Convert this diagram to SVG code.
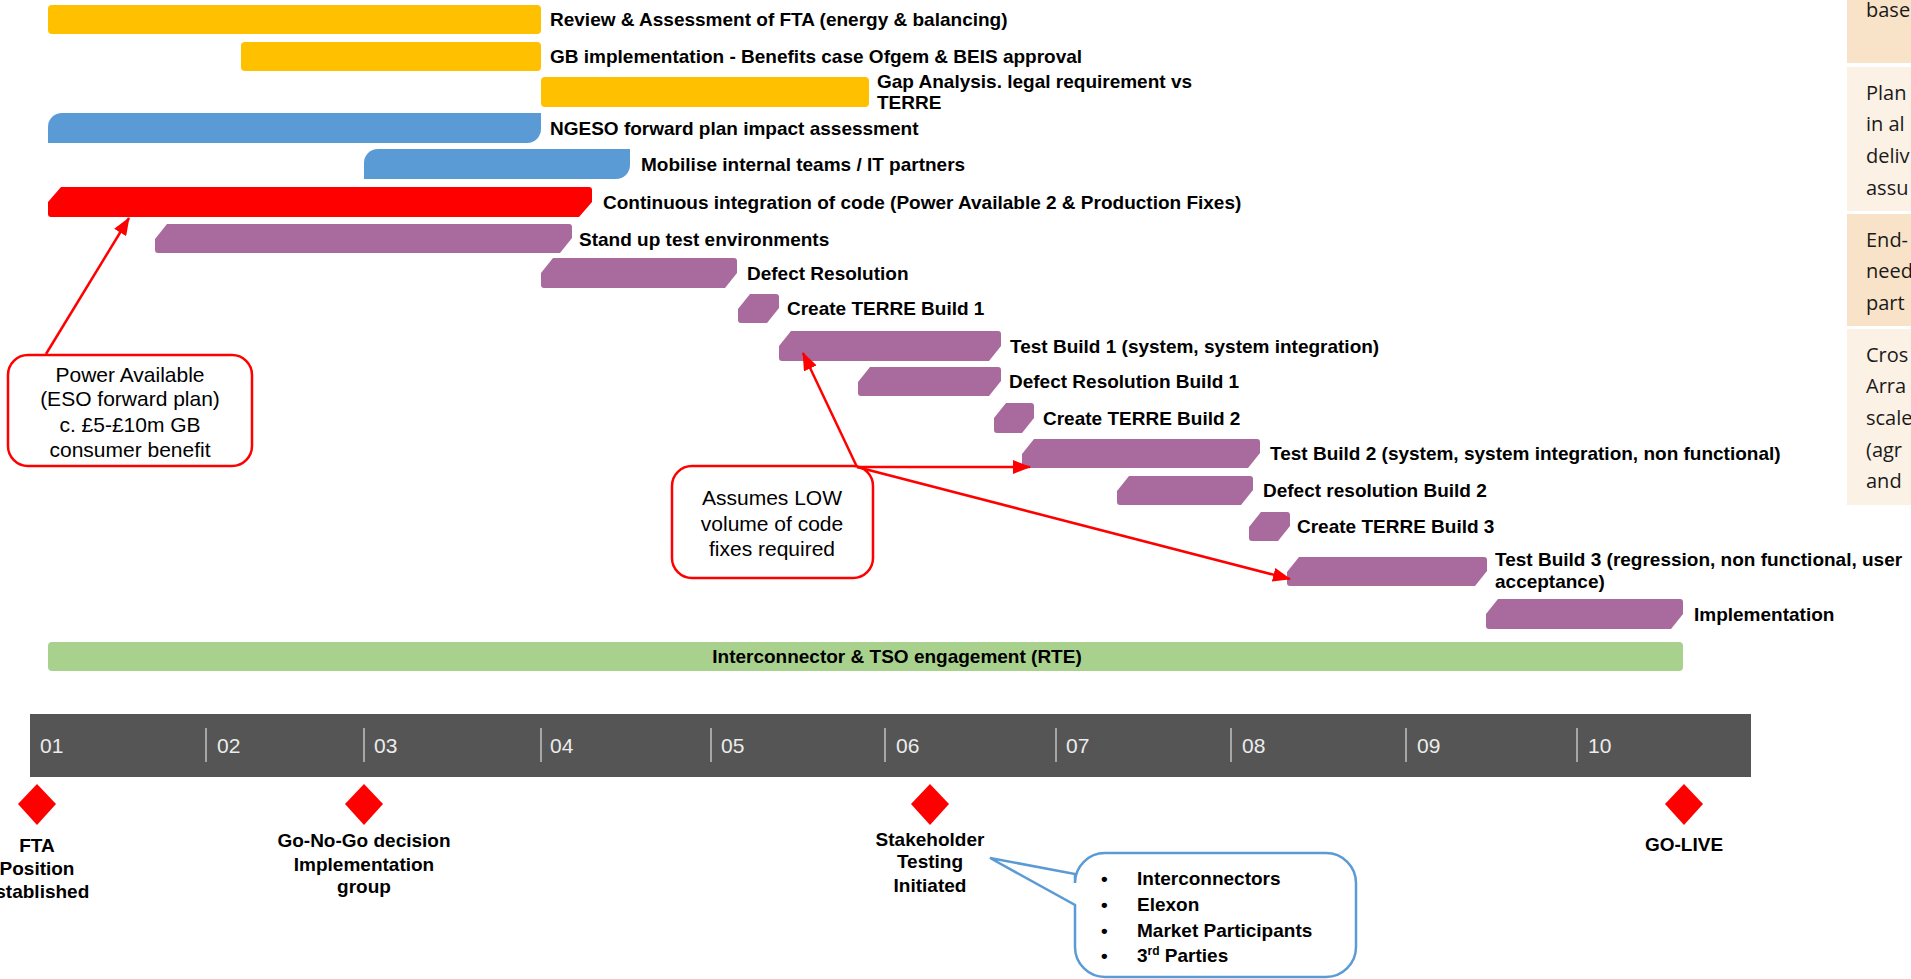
<svg xmlns="http://www.w3.org/2000/svg" width="1911" height="979" viewBox="0 0 1911 979">
<defs>
<style>
.lbl{font-family:"Liberation Sans",Arial,sans-serif;font-weight:bold;font-size:19px;fill:#000}
.tl{font-family:"Liberation Sans",Arial,sans-serif;font-size:21px;fill:#ececec}
.ms{font-family:"Liberation Sans",Arial,sans-serif;font-weight:bold;font-size:19px;fill:#000;text-anchor:middle}
.note{font-family:"Liberation Sans",Arial,sans-serif;font-size:21px;fill:#000;text-anchor:middle}
.side{font-family:"Open Sans","Liberation Sans",sans-serif;font-size:20px;fill:#1a1a1a}
.yel{fill:#FFC000}.blu{fill:#5B9BD5}.red{fill:#FF0000}.pur{fill:#A96B9E}.grn{fill:#A9D18E}
.tick{stroke:#a6a6a6;stroke-width:2}
.dia{fill:#FF0000}
.rbox{fill:#fff;stroke:#FF0000;stroke-width:2.5}
.conn{stroke:#FF0000;stroke-width:2.5;fill:none;marker-end:url(#ah)}
</style>
<marker id="ah" markerUnits="userSpaceOnUse" markerWidth="18" markerHeight="14" refX="17" refY="7" orient="auto"><path d="M0,0 L18,7 L0,14 Z" fill="#FF0000"/></marker>
</defs>
<rect width="1911" height="979" fill="#fff"/>

<g id="side-panel">
<rect x="1847" y="0" width="64" height="63" fill="#F9E3C8"/>
<rect x="1847" y="67" width="64" height="144" fill="#FCF1E5"/>
<rect x="1847" y="214" width="64" height="112" fill="#F9E3C8"/>
<rect x="1847" y="329" width="64" height="176" fill="#FCF1E5"/>
<text class="side" x="1866" y="17">base</text>
<text class="side" x="1866" y="100">Plan</text>
<text class="side" x="1866" y="131">in al</text>
<text class="side" x="1866" y="163">deliv</text>
<text class="side" x="1866" y="195">assu</text>
<text class="side" x="1866" y="247">End-</text>
<text class="side" x="1866" y="278">need</text>
<text class="side" x="1866" y="310">part</text>
<text class="side" x="1866" y="362">Cros</text>
<text class="side" x="1866" y="393">Arra</text>
<text class="side" x="1866" y="425">scale</text>
<text class="side" x="1866" y="457">(agr</text>
<text class="side" x="1866" y="488">and</text>
</g>

<g id="task-review">
<rect class="yel" x="48" y="5" width="493" height="29" rx="4"/>
<text class="lbl" x="550" y="26">Review &amp; Assessment of FTA (energy &amp; balancing)</text>
</g>
<g id="task-gb">
<rect class="yel" x="241" y="42" width="300" height="29" rx="4"/>
<text class="lbl" x="550" y="63">GB implementation - Benefits case Ofgem &amp; BEIS approval</text>
</g>
<g id="task-gap">
<rect class="yel" x="541" y="77" width="328" height="30" rx="4"/>
<text class="lbl" x="877" y="88">Gap Analysis. legal requirement vs</text>
<text class="lbl" x="877" y="109">TERRE</text>
</g>
<g id="task-ngeso">
<path class="blu" d="M62,113 H541 V129 A14,14 0 0 1 527,143 H48 V127 A14,14 0 0 1 62,113 Z"/>
<text class="lbl" x="550" y="135">NGESO forward plan impact assessment</text>
</g>
<g id="task-mobilise">
<path class="blu" d="M378,149 H630 V165 A14,14 0 0 1 616,179 H364 V163 A14,14 0 0 1 378,149 Z"/>
<text class="lbl" x="641" y="171">Mobilise internal teams / IT partners</text>
</g>
<g id="task-ci">
<path class="red" d="M61,187 H589 Q592,187 592,190 V202 L579,217 H51 Q48,217 48,214 V202 Z"/>
<text class="lbl" x="603" y="209">Continuous integration of code (Power Available 2 &amp; Production Fixes)</text>
</g>
<g id="task-standup">
<path class="pur" d="M167,224 H569 Q572,224 572,227 V238 L560,253 H158 Q155,253 155,250 V239 Z"/>
<text class="lbl" x="579" y="246">Stand up test environments</text>
</g>
<g id="task-defect">
<path class="pur" d="M553,258 H734 Q737,258 737,261 V273 L725,288 H544 Q541,288 541,285 V273 Z"/>
<text class="lbl" x="747" y="280">Defect Resolution</text>
</g>
<g id="task-create1">
<path class="pur" d="M750,294 H776 Q779,294 779,297 V308 L767,323 H741 Q738,323 738,320 V309 Z"/>
<text class="lbl" x="787" y="315">Create TERRE Build 1</text>
</g>
<g id="task-test1">
<path class="pur" d="M791,331 H998 Q1001,331 1001,334 V346 L989,361 H782 Q779,361 779,358 V346 Z"/>
<text class="lbl" x="1010" y="353">Test Build 1 (system, system integration)</text>
</g>
<g id="task-defect1">
<path class="pur" d="M870,367 H998 Q1001,367 1001,370 V381 L989,396 H861 Q858,396 858,393 V382 Z"/>
<text class="lbl" x="1009" y="388">Defect Resolution Build 1</text>
</g>
<g id="task-create2">
<path class="pur" d="M1006,403 H1031 Q1034,403 1034,406 V418 L1022,433 H997 Q994,433 994,430 V418 Z"/>
<text class="lbl" x="1043" y="425">Create TERRE Build 2</text>
</g>
<g id="task-test2">
<path class="pur" d="M1034,439 H1257 Q1260,439 1260,442 V453 L1248,468 H1025 Q1022,468 1022,465 V454 Z"/>
<text class="lbl" x="1270" y="460">Test Build 2 (system, system integration, non functional)</text>
</g>
<g id="task-defect2">
<path class="pur" d="M1129,476 H1250 Q1253,476 1253,479 V490 L1241,505 H1120 Q1117,505 1117,502 V491 Z"/>
<text class="lbl" x="1263" y="497">Defect resolution Build 2</text>
</g>
<g id="task-create3">
<path class="pur" d="M1261,512 H1287 Q1290,512 1290,515 V526 L1278,541 H1252 Q1249,541 1249,538 V527 Z"/>
<text class="lbl" x="1297" y="533">Create TERRE Build 3</text>
</g>
<g id="task-test3">
<path class="pur" d="M1299,557 H1484 Q1487,557 1487,560 V571 L1475,586 H1290 Q1287,586 1287,583 V572 Z"/>
<text class="lbl" x="1495" y="566">Test Build 3 (regression, non functional, user</text>
<text class="lbl" x="1495" y="588">acceptance)</text>
</g>
<g id="task-impl">
<path class="pur" d="M1498,599 H1680 Q1683,599 1683,602 V614 L1671,629 H1489 Q1486,629 1486,626 V614 Z"/>
<text class="lbl" x="1694" y="621">Implementation</text>
</g>
<g id="task-interconnector">
<rect class="grn" x="48" y="642" width="1635" height="29" rx="4"/>
<text class="lbl" x="897" y="663" text-anchor="middle">Interconnector &amp; TSO engagement (RTE)</text>
</g>

<g id="timeline">
<rect x="30" y="714" width="1721" height="63" fill="#555555"/>
<line class="tick" x1="206" y1="728" x2="206" y2="762"/>
<line class="tick" x1="364" y1="728" x2="364" y2="762"/>
<line class="tick" x1="541" y1="728" x2="541" y2="762"/>
<line class="tick" x1="711" y1="728" x2="711" y2="762"/>
<line class="tick" x1="885" y1="728" x2="885" y2="762"/>
<line class="tick" x1="1056" y1="728" x2="1056" y2="762"/>
<line class="tick" x1="1231" y1="728" x2="1231" y2="762"/>
<line class="tick" x1="1406" y1="728" x2="1406" y2="762"/>
<line class="tick" x1="1577" y1="728" x2="1577" y2="762"/>
<text class="tl" x="40" y="753">01</text>
<text class="tl" x="217" y="753">02</text>
<text class="tl" x="374" y="753">03</text>
<text class="tl" x="550" y="753">04</text>
<text class="tl" x="721" y="753">05</text>
<text class="tl" x="896" y="753">06</text>
<text class="tl" x="1066" y="753">07</text>
<text class="tl" x="1242" y="753">08</text>
<text class="tl" x="1417" y="753">09</text>
<text class="tl" x="1588" y="753">10</text>
</g>

<g id="ms-fta">
<path class="dia" d="M37,784 L56,804 L37,825 L18,804 Z"/>
<text class="ms" x="37" y="852">FTA</text>
<text class="ms" x="37" y="875">Position</text>
<text class="ms" x="37" y="898">established</text>
</g>
<g id="ms-gonogo">
<path class="dia" d="M364,784 L383,804 L364,825 L345,804 Z"/>
<text class="ms" x="364" y="847">Go-No-Go decision</text>
<text class="ms" x="364" y="871">Implementation</text>
<text class="ms" x="364" y="893">group</text>
</g>
<g id="ms-stakeholder">
<path class="dia" d="M930,784 L949,804 L930,825 L911,804 Z"/>
<text class="ms" x="930" y="846">Stakeholder</text>
<text class="ms" x="930" y="868">Testing</text>
<text class="ms" x="930" y="892">Initiated</text>
</g>
<g id="ms-golive">
<path class="dia" d="M1684,784 L1703,804 L1684,825 L1665,804 Z"/>
<text class="ms" x="1684" y="851">GO-LIVE</text>
</g>

<g id="callout-stakeholders">
<path d="M1105,853 H1326 A30,30 0 0 1 1356,883 V947 A30,30 0 0 1 1326,977 H1105 A30,30 0 0 1 1075,947 V905 L990,858 L1075,874 V883 A30,30 0 0 1 1105,853 Z" fill="#fff" stroke="#5B9BD5" stroke-width="2.5"/>
<g class="lbl">
<text x="1101" y="885">•</text><text x="1137" y="885">Interconnectors</text>
<text x="1101" y="911">•</text><text x="1137" y="911">Elexon</text>
<text x="1101" y="937">•</text><text x="1137" y="937">Market Participants</text>
<text x="1101" y="962">•</text><text x="1137" y="962">3<tspan font-size="12" dy="-7">rd</tspan><tspan dy="7"> Parties</tspan></text>
</g>
</g>

<g id="note-power">
<rect class="rbox" x="8" y="355" width="244" height="111" rx="20"/>
<text class="note" x="130" y="382">Power Available</text>
<text class="note" x="130" y="406">(ESO forward plan)</text>
<text class="note" x="130" y="432">c. £5-£10m GB</text>
<text class="note" x="130" y="457">consumer benefit</text>
</g>
<g id="note-low">
<rect class="rbox" x="672" y="466" width="201" height="112" rx="20"/>
<text class="note" x="772" y="505">Assumes LOW</text>
<text class="note" x="772" y="531">volume of code</text>
<text class="note" x="772" y="556">fixes required</text>
</g>

<g id="connectors">
<line class="conn" x1="46" y1="354" x2="129" y2="218"/>
<line class="conn" x1="857" y1="467" x2="803" y2="353"/>
<line class="conn" x1="857" y1="467" x2="1030" y2="467"/>
<line class="conn" x1="857" y1="467" x2="1290" y2="579"/>
</g>
</svg>
